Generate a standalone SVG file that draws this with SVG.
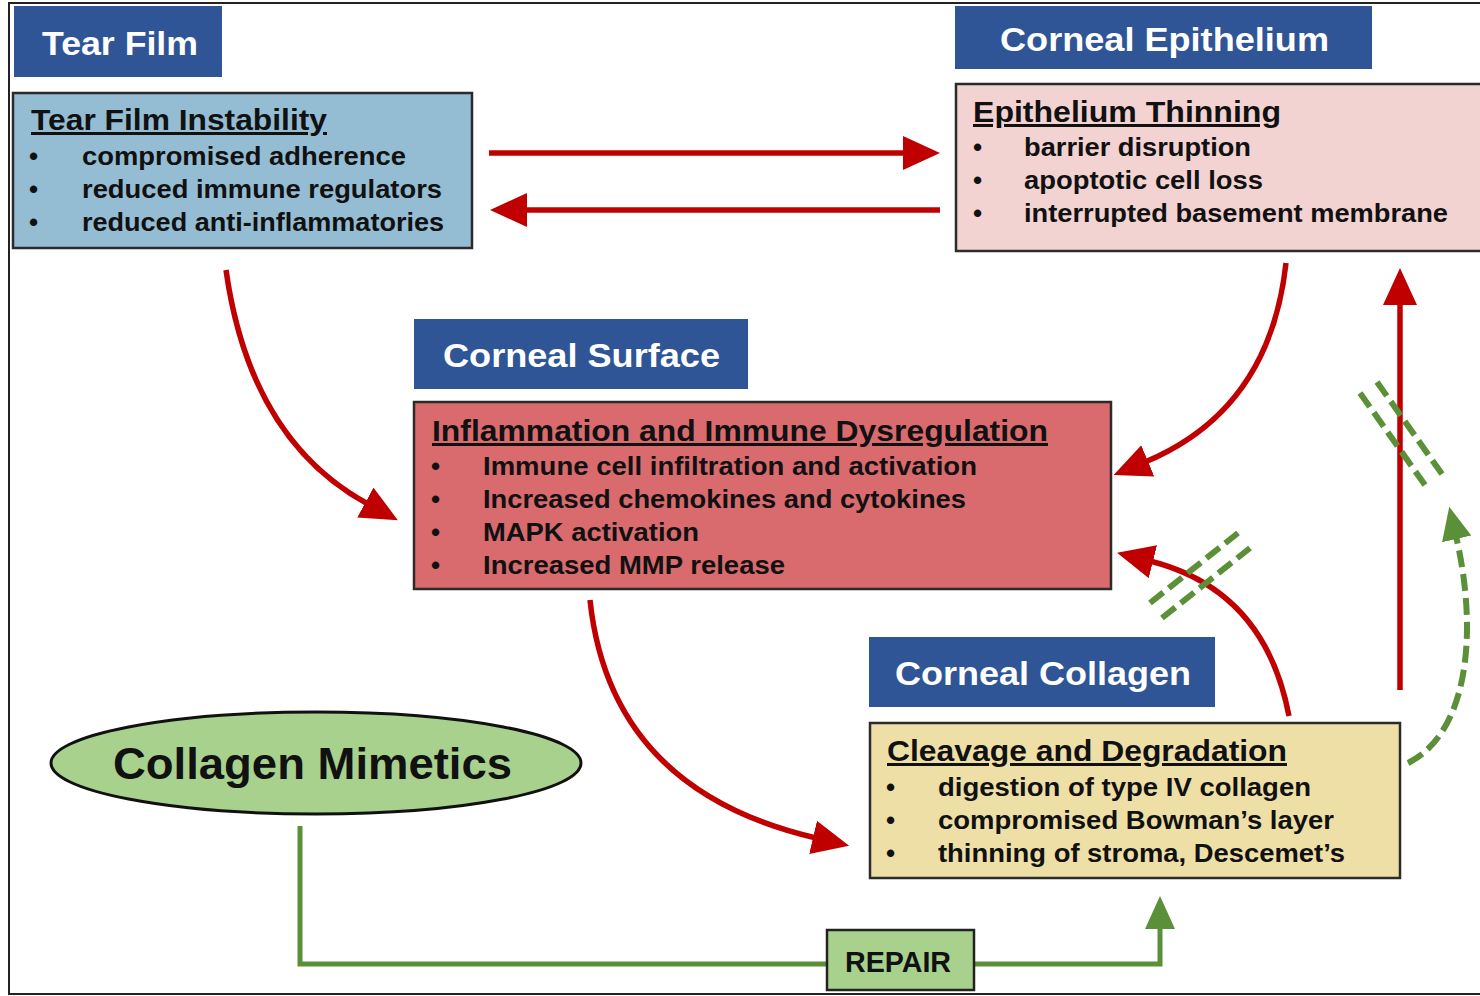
<svg xmlns="http://www.w3.org/2000/svg" width="1480" height="996" viewBox="0 0 1480 996">
<style>
text{font-family:"Liberation Sans",Arial,sans-serif;font-weight:bold;}
.hdr{fill:#2F5597;}
.hdrt{fill:#ffffff;font-size:34px;}
.box{stroke:#2b2b2b;stroke-width:2.5;}
.ttl{fill:#111;font-size:30px;text-decoration:underline;}
.itm{fill:#111;font-size:26px;}
.red{fill:none;stroke:#C00000;stroke-width:5.5;}
.grn{fill:none;stroke:#5B9038;stroke-width:5;}
.dash{fill:none;stroke:#5B9038;stroke-width:6;stroke-dasharray:17 7;}
</style>
<defs>
<marker id="ar" markerUnits="userSpaceOnUse" markerWidth="42" markerHeight="36" refX="3" refY="17" orient="auto">
<path d="M0,0 L37,17 L0,34 z" fill="#C00000"/>
</marker>
<marker id="ag" markerUnits="userSpaceOnUse" markerWidth="40" markerHeight="34" refX="3" refY="16" orient="auto">
<path d="M0,1 L33,16 L0,31 z" fill="#5B9038"/>
</marker>
</defs>
<rect x="0" y="0" width="1480" height="996" fill="#ffffff"/>
<rect x="9" y="3" width="1480" height="991" fill="none" stroke="#222" stroke-width="2"/>

<g id="connectors">
<line class="red" x1="489" y1="153" x2="906" y2="153" marker-end="url(#ar)"/>
<line class="red" x1="940" y1="210" x2="524" y2="210" marker-end="url(#ar)"/>
<path class="red" d="M226,270 Q250,440 368,504" marker-end="url(#ar)"/>
<path class="red" d="M1286,263 Q1270,410 1145,462" marker-end="url(#ar)"/>
<path class="red" d="M590,600 Q610,790 816,838" marker-end="url(#ar)"/>
<path class="red" d="M1289,716 Q1265,590 1150,561" marker-end="url(#ar)"/>
<line class="red" x1="1400" y1="690" x2="1400" y2="302" marker-end="url(#ar)"/>
<path class="dash" d="M1408,763 C1465,735 1480,640 1456,536" marker-end="url(#ag)"/>
<line class="dash" x1="1360" y1="393" x2="1425" y2="485"/>
<line class="dash" x1="1377" y1="382" x2="1442" y2="474"/>
<line class="dash" x1="1150" y1="603" x2="1238" y2="533"/>
<line class="dash" x1="1162" y1="618" x2="1250" y2="548"/>
<polyline class="grn" points="300,826 300,964 1160,964 1160,926" marker-end="url(#ag)"/>
</g>

<g id="tear-film-header">
<rect class="hdr" x="14" y="6" width="208" height="71"/>
<text class="hdrt" x="42" y="55" textLength="156" lengthAdjust="spacingAndGlyphs">Tear Film</text>
</g>
<g id="tear-film-instability">
<rect class="box" x="13" y="93" width="459" height="155" fill="#94BCD3"/>
<text class="ttl" x="31" y="130" textLength="296" lengthAdjust="spacingAndGlyphs">Tear Film Instability</text>
<text class="itm" x="29" y="165">•</text>
<text class="itm" x="82" y="165" textLength="324" lengthAdjust="spacingAndGlyphs">compromised adherence</text>
<text class="itm" x="29" y="198">•</text>
<text class="itm" x="82" y="198" textLength="360" lengthAdjust="spacingAndGlyphs">reduced immune regulators</text>
<text class="itm" x="29" y="231">•</text>
<text class="itm" x="82" y="231" textLength="362" lengthAdjust="spacingAndGlyphs">reduced anti-inflammatories</text>
</g>

<g id="corneal-epithelium-header">
<rect class="hdr" x="955" y="6" width="417" height="63"/>
<text class="hdrt" x="1000" y="51" textLength="329" lengthAdjust="spacingAndGlyphs">Corneal Epithelium</text>
</g>
<g id="epithelium-thinning">
<rect class="box" x="956" y="84" width="530" height="167" fill="#F2D3D1"/>
<text class="ttl" x="973" y="122" textLength="308" lengthAdjust="spacingAndGlyphs">Epithelium Thinning</text>
<text class="itm" x="973" y="156">•</text>
<text class="itm" x="1024" y="156" textLength="227" lengthAdjust="spacingAndGlyphs">barrier disruption</text>
<text class="itm" x="973" y="189">•</text>
<text class="itm" x="1024" y="189" textLength="239" lengthAdjust="spacingAndGlyphs">apoptotic cell loss</text>
<text class="itm" x="973" y="222">•</text>
<text class="itm" x="1024" y="222" textLength="424" lengthAdjust="spacingAndGlyphs">interrupted basement membrane</text>
</g>

<g id="corneal-surface-header">
<rect class="hdr" x="414" y="319" width="334" height="70"/>
<text class="hdrt" x="443" y="367" textLength="277" lengthAdjust="spacingAndGlyphs">Corneal Surface</text>
</g>
<g id="inflammation">
<rect class="box" x="414" y="402" width="697" height="187" fill="#D96A6E"/>
<text class="ttl" x="432" y="441" textLength="616" lengthAdjust="spacingAndGlyphs">Inflammation and Immune Dysregulation</text>
<text class="itm" x="431" y="475">•</text>
<text class="itm" x="483" y="475" textLength="494" lengthAdjust="spacingAndGlyphs">Immune cell infiltration and activation</text>
<text class="itm" x="431" y="508">•</text>
<text class="itm" x="483" y="508" textLength="483" lengthAdjust="spacingAndGlyphs">Increased chemokines and cytokines</text>
<text class="itm" x="431" y="541">•</text>
<text class="itm" x="483" y="541" textLength="216" lengthAdjust="spacingAndGlyphs">MAPK activation</text>
<text class="itm" x="431" y="574">•</text>
<text class="itm" x="483" y="574" textLength="302" lengthAdjust="spacingAndGlyphs">Increased MMP release</text>
</g>

<g id="corneal-collagen-header">
<rect class="hdr" x="869" y="637" width="346" height="70"/>
<text class="hdrt" x="895" y="685" textLength="296" lengthAdjust="spacingAndGlyphs">Corneal Collagen</text>
</g>
<g id="cleavage">
<rect class="box" x="870" y="723" width="530" height="155" fill="#EEDFA7"/>
<text class="ttl" x="887" y="761" textLength="400" lengthAdjust="spacingAndGlyphs">Cleavage and Degradation</text>
<text class="itm" x="886" y="796">•</text>
<text class="itm" x="938" y="796" textLength="373" lengthAdjust="spacingAndGlyphs">digestion of type IV collagen</text>
<text class="itm" x="886" y="829">•</text>
<text class="itm" x="938" y="829" textLength="396" lengthAdjust="spacingAndGlyphs">compromised Bowman’s layer</text>
<text class="itm" x="886" y="862">•</text>
<text class="itm" x="938" y="862" textLength="407" lengthAdjust="spacingAndGlyphs">thinning of stroma, Descemet’s</text>
</g>

<g id="collagen-mimetics">
<ellipse cx="316" cy="763" rx="265" ry="51" fill="#A9D18E" stroke="#111" stroke-width="3"/>
<text x="113" y="779" font-size="44" fill="#111" textLength="399" lengthAdjust="spacingAndGlyphs">Collagen Mimetics</text>
</g>

<g id="repair">
<rect x="827" y="930" width="147" height="60" fill="#A9D18E" stroke="#222" stroke-width="2.5"/>
<text x="845" y="972" font-size="30" fill="#111" textLength="106" lengthAdjust="spacingAndGlyphs">REPAIR</text>
</g>
</svg>
